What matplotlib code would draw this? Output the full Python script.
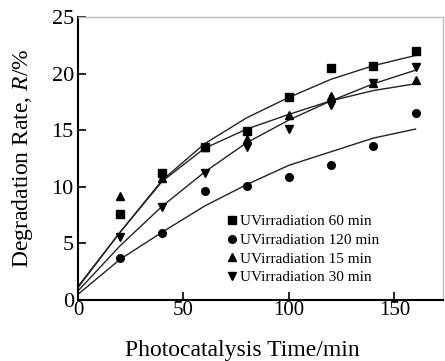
import numpy as np
import matplotlib.pyplot as plt

plt.rcParams['font.family'] = 'Liberation Serif'
plt.rcParams['mathtext.fontset'] = 'custom'
plt.rcParams['mathtext.rm'] = 'Liberation Serif'
plt.rcParams['mathtext.it'] = 'Liberation Serif:italic'

# measured points
t = [20, 40, 60, 80, 100, 120, 140, 160]
uv60 = [7.6, 11.2, 13.5, 14.9, 17.9, 20.5, 20.7, 22.0]
uv120 = [3.7, 5.9, 9.6, 10.1, 10.9, 11.9, 13.6, 16.5]
uv15 = [9.2, 10.8, 13.5, 14.2, 16.3, 18.0, 19.2, 19.4]
uv30 = [5.6, 8.2, 11.2, 13.5, 15.1, 17.2, 19.2, 20.6]

# fitted trend lines
t_fit = [0, 20, 40, 60, 80, 100, 120, 140, 160]
fit60 = [1.2, 6.0, 10.6, 13.8, 16.1, 17.9, 19.5, 20.7, 21.6]
fit120 = [0.5, 3.6, 6.0, 8.3, 10.2, 11.9, 13.1, 14.3, 15.1]
fit15 = [1.1, 6.0, 10.5, 13.4, 15.1, 16.4, 17.6, 18.5, 19.1]
fit30 = [0.8, 4.8, 8.3, 11.3, 13.9, 15.9, 17.6, 19.1, 20.3]

labels = ['UVirradiation 60 min', 'UVirradiation 120 min',
          'UVirradiation 15 min', 'UVirradiation 30 min']

fig = plt.figure(figsize=(4.45, 3.61), dpi=100)
ax = fig.add_axes([0.1753, 0.169, 0.8202, 0.784])

for fit in [fit60, fit120, fit15, fit30]:
    ax.plot(t_fit, fit, color='#222222', linewidth=1.0)

ms = 5.5
ax.plot(t, uv60, 's', color='black', markersize=ms, label=labels[0])
ax.plot(t, uv120, 'o', color='black', markersize=ms, label=labels[1])
ax.plot(t, uv15, '^', color='black', markersize=ms + 0.5, label=labels[2])
ax.plot(t, uv30, 'v', color='black', markersize=ms + 0.5, label=labels[3])

ax.set_xlim(0, 173)
ax.set_ylim(0, 25)
ax.set_xticks([0, 50, 100, 150])
ax.set_yticks([0, 5, 10, 15, 20, 25])
ax.tick_params(direction='in', length=6, width=1.2)
ax.tick_params(axis='x', labelsize=15, pad=1)
ax.tick_params(axis='y', labelsize=16, pad=3)

for s in ['left', 'bottom']:
    ax.spines[s].set_linewidth(1.5)
for s in ['top', 'right']:
    ax.spines[s].set_color('#bbbbbb')
    ax.spines[s].set_linewidth(1.0)

ax.set_xlabel('Photocatalysis Time/min', fontsize=17)
ax.xaxis.set_label_coords(0.449, -0.14)
ax.set_ylabel('Degradation Rate, $R$/%', fontsize=17, labelpad=12)

ax.legend(loc='upper left', bbox_to_anchor=(0.408, 0.302), frameon=False,
          fontsize=11, handlelength=0.6, handletextpad=0.25,
          labelspacing=0.33, borderpad=0, borderaxespad=0)

fig.savefig('out.png', dpi=100)
